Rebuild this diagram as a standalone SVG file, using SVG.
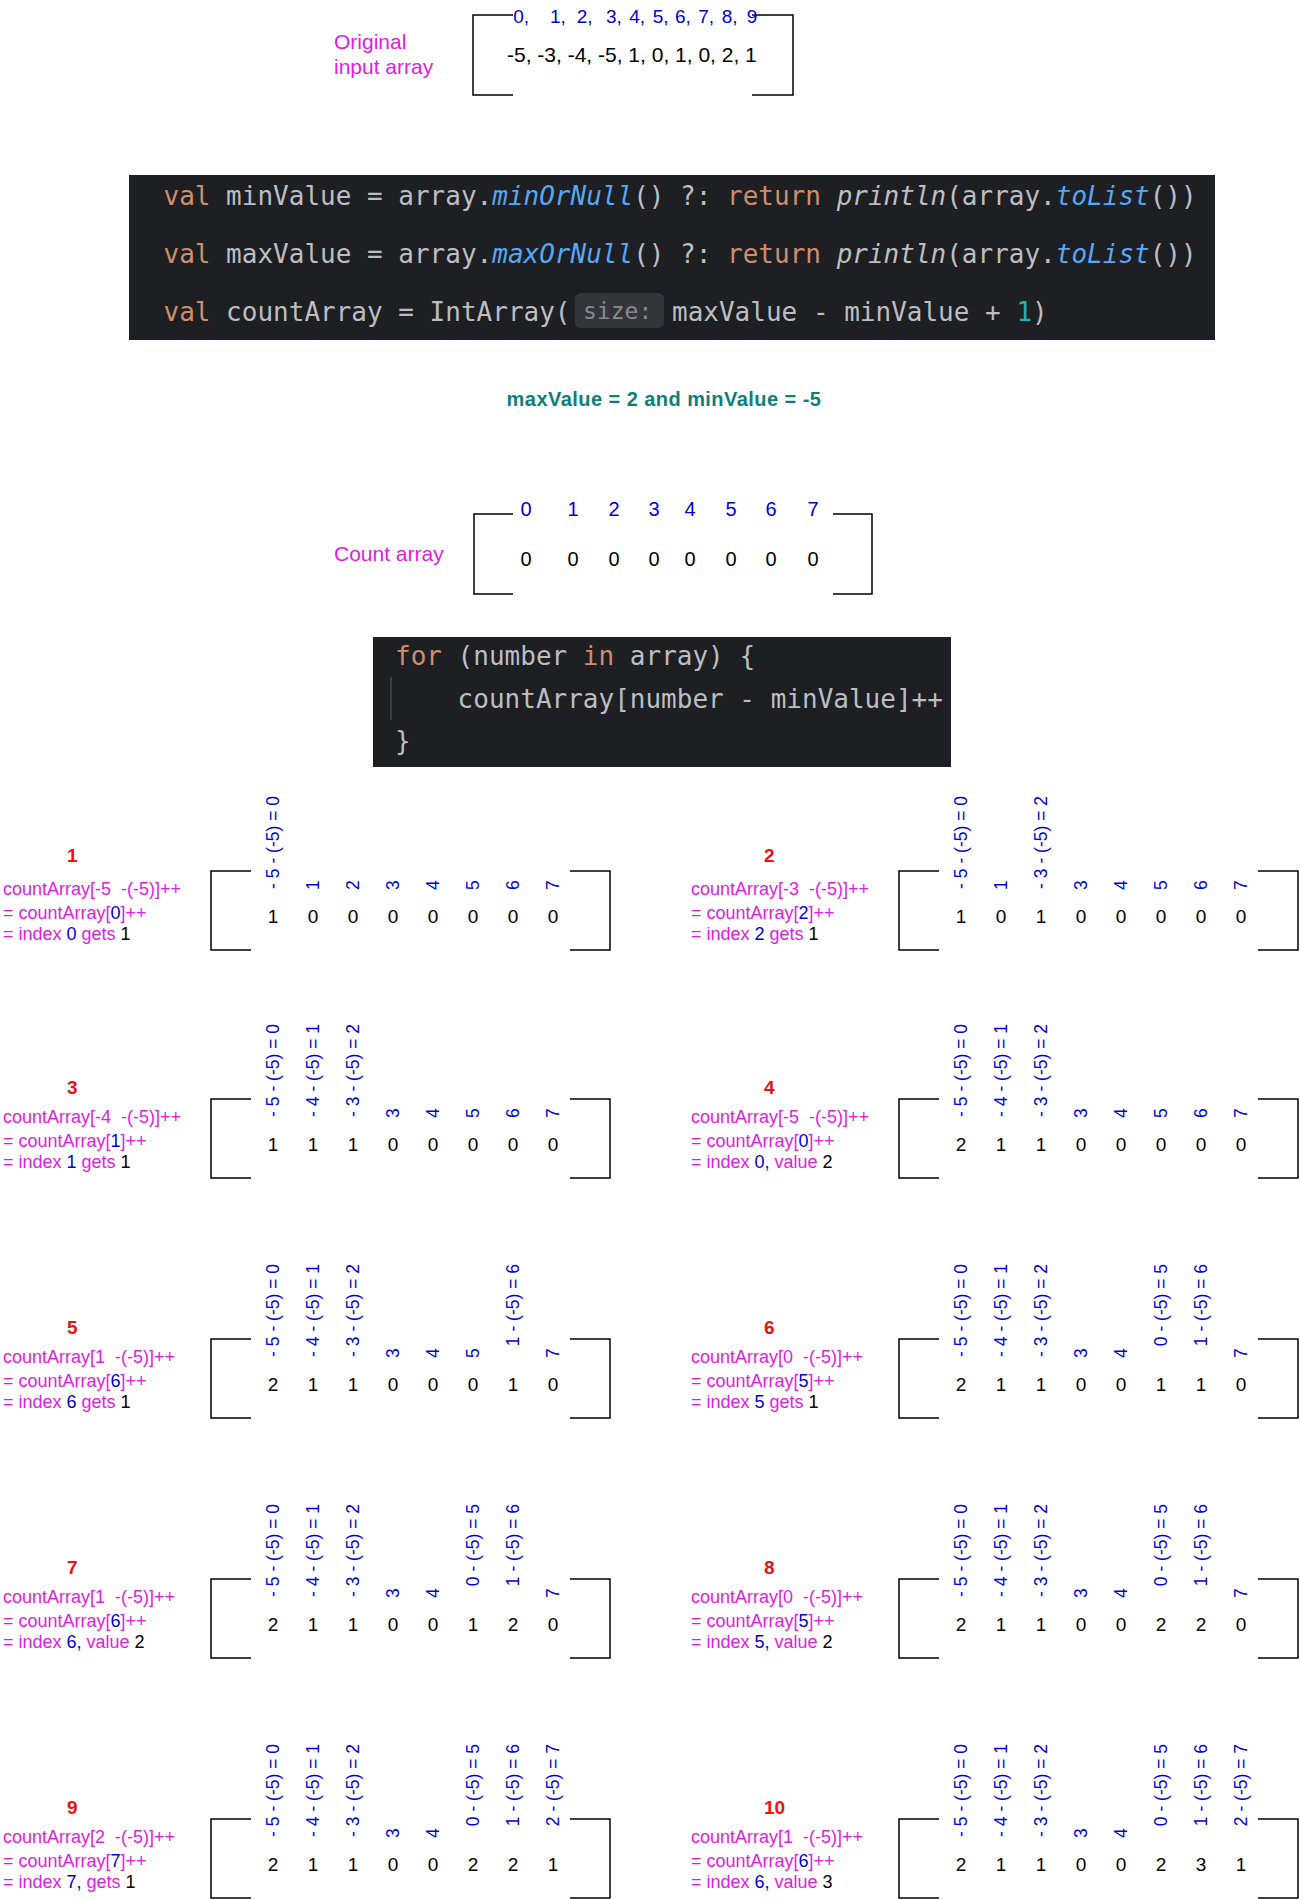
<svg xmlns="http://www.w3.org/2000/svg" width="1300" height="1899" viewBox="0 0 1300 1899">
<style>
.br{fill:none;stroke:#000;stroke-width:1.5}
.sans{font-family:"Liberation Sans",Arial,sans-serif}
.mg{font-family:"Liberation Sans",Arial,sans-serif;font-size:18px;fill:#e619e6;white-space:pre}
.lbl{font-family:"Liberation Sans",Arial,sans-serif;font-size:21px;fill:#e619e6}
.bl{fill:#0000dd}
.bk{fill:#000}
.num{font-family:"Liberation Sans",Arial,sans-serif;font-size:19px;font-weight:bold;fill:#ee1111}
.rl{font-family:"Liberation Sans",Arial,sans-serif;font-size:17.5px;fill:#0000dd}
.e{text-anchor:end}
.v{font-family:"Liberation Sans",Arial,sans-serif;font-size:19px;fill:#000;text-anchor:middle}
.code{font-family:"DejaVu Sans Mono","Liberation Mono",monospace;font-size:26px;fill:#bcbec4;white-space:pre}
.kw{fill:#cf8e6d}
.fn{fill:#56a8f5;font-style:italic}
.it{font-style:italic}
.nm{fill:#2aacb8}
</style>

<g id="input-array">
<text class="lbl" x="334" y="49">Original</text>
<text class="lbl" x="334" y="74">input array</text>
<path class="br" d="M513,15H473V95H513M752,15H793V95H752"/>
<text class="sans" font-size="19" fill="#0000dd"><tspan x="513.3" y="23">0,</tspan><tspan x="550" y="23">1,</tspan><tspan x="576.7" y="23">2,</tspan><tspan x="606" y="23">3,</tspan><tspan x="629.3" y="23">4,</tspan><tspan x="652.7" y="23">5,</tspan><tspan x="675" y="23">6,</tspan><tspan x="698.3" y="23">7,</tspan><tspan x="721.7" y="23">8,</tspan><tspan x="746.7" y="23">9</tspan></text>
<text class="sans" font-size="21" fill="#000" x="507" y="62">-5, -3, -4, -5, 1, 0, 1, 0, 2, 1</text>
</g>

<g id="code-init">
<rect x="129" y="175" width="1086" height="165" fill="#1e1f22"/>
<text class="code" x="163.5" y="205"><tspan class="kw">val</tspan> minValue = array.<tspan class="fn">minOrNull</tspan>() ?: <tspan class="kw">return</tspan> <tspan class="it">println</tspan>(array.<tspan class="fn">toList</tspan>())</text>
<text class="code" x="163.5" y="263"><tspan class="kw">val</tspan> maxValue = array.<tspan class="fn">maxOrNull</tspan>() ?: <tspan class="kw">return</tspan> <tspan class="it">println</tspan>(array.<tspan class="fn">toList</tspan>())</text>
<text class="code" x="163.5" y="321"><tspan class="kw">val</tspan> countArray = IntArray(</text>
<rect x="575" y="293" width="89" height="35" rx="6" fill="#33353a"/>
<text class="code" x="583" y="319" style="fill:#868a91;font-size:23px">size:</text>
<text class="code" x="672" y="321">maxValue - minValue + <tspan class="nm">1</tspan>)</text>
</g>

<g id="min-max">
<text class="sans" x="664" y="406" text-anchor="middle" font-size="20" font-weight="bold" letter-spacing="0.45" fill="#0d7f7b">maxValue = 2 and minValue = -5</text>
</g>

<g id="count-array">
<text class="lbl" x="334" y="561">Count array</text>
<path class="br" d="M513,514H474V594H513M833,514H872V594H833"/>
<g class="sans" font-size="20" fill="#0000dd" text-anchor="middle">
<text x="526" y="516">0</text><text x="573" y="516">1</text><text x="614" y="516">2</text><text x="654" y="516">3</text><text x="690" y="516">4</text><text x="731" y="516">5</text><text x="771" y="516">6</text><text x="813" y="516">7</text>
</g>
<g class="sans" font-size="20" fill="#000" text-anchor="middle">
<text x="526" y="566">0</text><text x="573" y="566">0</text><text x="614" y="566">0</text><text x="654" y="566">0</text><text x="690" y="566">0</text><text x="731" y="566">0</text><text x="771" y="566">0</text><text x="813" y="566">0</text>
</g>
</g>

<g id="code-loop">
<rect x="373" y="637" width="578" height="130" fill="#1e1f22"/>
<line x1="391" y1="677" x2="391" y2="720" stroke="#3c3e43" stroke-width="2"/>
<text class="code" x="395" y="665"><tspan class="kw">for</tspan> (number <tspan class="kw">in</tspan> array) {</text>
<text class="code" x="395" y="708">    countArray[number - minValue]++</text>
<text class="code" x="395" y="750">}</text>
</g>

<!-- Step 1 -->
<g id="step1" transform="translate(0,871)">
<path class="br" d="M251,0H211V79H251M570,0H610V79H570"/>
<text class="num" x="67" y="-9">1</text>
<text class="mg" x="3" y="24">countArray[-5  -(-5)]++</text>
<text class="mg" x="3" y="48">= countArray[<tspan class="bl">0</tspan>]++</text>
<text class="mg" x="3" y="69">= index <tspan class="bl">0</tspan> gets <tspan class="bk">1</tspan></text>
<g class="rl">
<text class="e" transform="translate(279,-75) rotate(-90)">- 5 - (-5) = 0</text>
<text transform="translate(319,19) rotate(-90)">1</text>
<text transform="translate(359,19) rotate(-90)">2</text>
<text transform="translate(399,19) rotate(-90)">3</text>
<text transform="translate(439,19) rotate(-90)">4</text>
<text transform="translate(479,19) rotate(-90)">5</text>
<text transform="translate(519,19) rotate(-90)">6</text>
<text transform="translate(559,19) rotate(-90)">7</text>
</g>
<g class="v"><text x="273" y="52">1</text><text x="313" y="52">0</text><text x="353" y="52">0</text><text x="393" y="52">0</text><text x="433" y="52">0</text><text x="473" y="52">0</text><text x="513" y="52">0</text><text x="553" y="52">0</text></g>
</g>

<!-- Step 2 -->
<g id="step2" transform="translate(688,871)">
<path class="br" d="M251,0H211V79H251M570,0H610V79H570"/>
<text class="num" x="76" y="-9">2</text>
<text class="mg" x="3" y="24">countArray[-3  -(-5)]++</text>
<text class="mg" x="3" y="48">= countArray[<tspan class="bl">2</tspan>]++</text>
<text class="mg" x="3" y="69">= index <tspan class="bl">2</tspan> gets <tspan class="bk">1</tspan></text>
<g class="rl">
<text class="e" transform="translate(279,-75) rotate(-90)">- 5 - (-5) = 0</text>
<text transform="translate(319,19) rotate(-90)">1</text>
<text class="e" transform="translate(359,-75) rotate(-90)">- 3 - (-5) = 2</text>
<text transform="translate(399,19) rotate(-90)">3</text>
<text transform="translate(439,19) rotate(-90)">4</text>
<text transform="translate(479,19) rotate(-90)">5</text>
<text transform="translate(519,19) rotate(-90)">6</text>
<text transform="translate(559,19) rotate(-90)">7</text>
</g>
<g class="v"><text x="273" y="52">1</text><text x="313" y="52">0</text><text x="353" y="52">1</text><text x="393" y="52">0</text><text x="433" y="52">0</text><text x="473" y="52">0</text><text x="513" y="52">0</text><text x="553" y="52">0</text></g>
</g>

<!-- Step 3 -->
<g id="step3" transform="translate(0,1099)">
<path class="br" d="M251,0H211V79H251M570,0H610V79H570"/>
<text class="num" x="67" y="-5">3</text>
<text class="mg" x="3" y="24">countArray[-4  -(-5)]++</text>
<text class="mg" x="3" y="48">= countArray[<tspan class="bl">1</tspan>]++</text>
<text class="mg" x="3" y="69">= index <tspan class="bl">1</tspan> gets <tspan class="bk">1</tspan></text>
<g class="rl">
<text class="e" transform="translate(279,-75) rotate(-90)">- 5 - (-5) = 0</text>
<text class="e" transform="translate(319,-75) rotate(-90)">- 4 - (-5) = 1</text>
<text class="e" transform="translate(359,-75) rotate(-90)">- 3 - (-5) = 2</text>
<text transform="translate(399,19) rotate(-90)">3</text>
<text transform="translate(439,19) rotate(-90)">4</text>
<text transform="translate(479,19) rotate(-90)">5</text>
<text transform="translate(519,19) rotate(-90)">6</text>
<text transform="translate(559,19) rotate(-90)">7</text>
</g>
<g class="v"><text x="273" y="52">1</text><text x="313" y="52">1</text><text x="353" y="52">1</text><text x="393" y="52">0</text><text x="433" y="52">0</text><text x="473" y="52">0</text><text x="513" y="52">0</text><text x="553" y="52">0</text></g>
</g>

<!-- Step 4 -->
<g id="step4" transform="translate(688,1099)">
<path class="br" d="M251,0H211V79H251M570,0H610V79H570"/>
<text class="num" x="76" y="-5">4</text>
<text class="mg" x="3" y="24">countArray[-5  -(-5)]++</text>
<text class="mg" x="3" y="48">= countArray[<tspan class="bl">0</tspan>]++</text>
<text class="mg" x="3" y="69">= index <tspan class="bl">0,</tspan> value <tspan class="bk">2</tspan></text>
<g class="rl">
<text class="e" transform="translate(279,-75) rotate(-90)">- 5 - (-5) = 0</text>
<text class="e" transform="translate(319,-75) rotate(-90)">- 4 - (-5) = 1</text>
<text class="e" transform="translate(359,-75) rotate(-90)">- 3 - (-5) = 2</text>
<text transform="translate(399,19) rotate(-90)">3</text>
<text transform="translate(439,19) rotate(-90)">4</text>
<text transform="translate(479,19) rotate(-90)">5</text>
<text transform="translate(519,19) rotate(-90)">6</text>
<text transform="translate(559,19) rotate(-90)">7</text>
</g>
<g class="v"><text x="273" y="52">2</text><text x="313" y="52">1</text><text x="353" y="52">1</text><text x="393" y="52">0</text><text x="433" y="52">0</text><text x="473" y="52">0</text><text x="513" y="52">0</text><text x="553" y="52">0</text></g>
</g>

<!-- Step 5 -->
<g id="step5" transform="translate(0,1339)">
<path class="br" d="M251,0H211V79H251M570,0H610V79H570"/>
<text class="num" x="67" y="-5">5</text>
<text class="mg" x="3" y="24">countArray[1  -(-5)]++</text>
<text class="mg" x="3" y="48">= countArray[<tspan class="bl">6</tspan>]++</text>
<text class="mg" x="3" y="69">= index <tspan class="bl">6</tspan> gets <tspan class="bk">1</tspan></text>
<g class="rl">
<text class="e" transform="translate(279,-75) rotate(-90)">- 5 - (-5) = 0</text>
<text class="e" transform="translate(319,-75) rotate(-90)">- 4 - (-5) = 1</text>
<text class="e" transform="translate(359,-75) rotate(-90)">- 3 - (-5) = 2</text>
<text transform="translate(399,19) rotate(-90)">3</text>
<text transform="translate(439,19) rotate(-90)">4</text>
<text transform="translate(479,19) rotate(-90)">5</text>
<text class="e" transform="translate(519,-75) rotate(-90)">1 - (-5) = 6</text>
<text transform="translate(559,19) rotate(-90)">7</text>
</g>
<g class="v"><text x="273" y="52">2</text><text x="313" y="52">1</text><text x="353" y="52">1</text><text x="393" y="52">0</text><text x="433" y="52">0</text><text x="473" y="52">0</text><text x="513" y="52">1</text><text x="553" y="52">0</text></g>
</g>

<!-- Step 6 -->
<g id="step6" transform="translate(688,1339)">
<path class="br" d="M251,0H211V79H251M570,0H610V79H570"/>
<text class="num" x="76" y="-5">6</text>
<text class="mg" x="3" y="24">countArray[0  -(-5)]++</text>
<text class="mg" x="3" y="48">= countArray[<tspan class="bl">5</tspan>]++</text>
<text class="mg" x="3" y="69">= index <tspan class="bl">5</tspan> gets <tspan class="bk">1</tspan></text>
<g class="rl">
<text class="e" transform="translate(279,-75) rotate(-90)">- 5 - (-5) = 0</text>
<text class="e" transform="translate(319,-75) rotate(-90)">- 4 - (-5) = 1</text>
<text class="e" transform="translate(359,-75) rotate(-90)">- 3 - (-5) = 2</text>
<text transform="translate(399,19) rotate(-90)">3</text>
<text transform="translate(439,19) rotate(-90)">4</text>
<text class="e" transform="translate(479,-75) rotate(-90)">0 - (-5) = 5</text>
<text class="e" transform="translate(519,-75) rotate(-90)">1 - (-5) = 6</text>
<text transform="translate(559,19) rotate(-90)">7</text>
</g>
<g class="v"><text x="273" y="52">2</text><text x="313" y="52">1</text><text x="353" y="52">1</text><text x="393" y="52">0</text><text x="433" y="52">0</text><text x="473" y="52">1</text><text x="513" y="52">1</text><text x="553" y="52">0</text></g>
</g>

<!-- Step 7 -->
<g id="step7" transform="translate(0,1579)">
<path class="br" d="M251,0H211V79H251M570,0H610V79H570"/>
<text class="num" x="67" y="-5">7</text>
<text class="mg" x="3" y="24">countArray[1  -(-5)]++</text>
<text class="mg" x="3" y="48">= countArray[<tspan class="bl">6</tspan>]++</text>
<text class="mg" x="3" y="69">= index <tspan class="bl">6,</tspan> value <tspan class="bk">2</tspan></text>
<g class="rl">
<text class="e" transform="translate(279,-75) rotate(-90)">- 5 - (-5) = 0</text>
<text class="e" transform="translate(319,-75) rotate(-90)">- 4 - (-5) = 1</text>
<text class="e" transform="translate(359,-75) rotate(-90)">- 3 - (-5) = 2</text>
<text transform="translate(399,19) rotate(-90)">3</text>
<text transform="translate(439,19) rotate(-90)">4</text>
<text class="e" transform="translate(479,-75) rotate(-90)">0 - (-5) = 5</text>
<text class="e" transform="translate(519,-75) rotate(-90)">1 - (-5) = 6</text>
<text transform="translate(559,19) rotate(-90)">7</text>
</g>
<g class="v"><text x="273" y="52">2</text><text x="313" y="52">1</text><text x="353" y="52">1</text><text x="393" y="52">0</text><text x="433" y="52">0</text><text x="473" y="52">1</text><text x="513" y="52">2</text><text x="553" y="52">0</text></g>
</g>

<!-- Step 8 -->
<g id="step8" transform="translate(688,1579)">
<path class="br" d="M251,0H211V79H251M570,0H610V79H570"/>
<text class="num" x="76" y="-5">8</text>
<text class="mg" x="3" y="24">countArray[0  -(-5)]++</text>
<text class="mg" x="3" y="48">= countArray[<tspan class="bl">5</tspan>]++</text>
<text class="mg" x="3" y="69">= index <tspan class="bl">5,</tspan> value <tspan class="bk">2</tspan></text>
<g class="rl">
<text class="e" transform="translate(279,-75) rotate(-90)">- 5 - (-5) = 0</text>
<text class="e" transform="translate(319,-75) rotate(-90)">- 4 - (-5) = 1</text>
<text class="e" transform="translate(359,-75) rotate(-90)">- 3 - (-5) = 2</text>
<text transform="translate(399,19) rotate(-90)">3</text>
<text transform="translate(439,19) rotate(-90)">4</text>
<text class="e" transform="translate(479,-75) rotate(-90)">0 - (-5) = 5</text>
<text class="e" transform="translate(519,-75) rotate(-90)">1 - (-5) = 6</text>
<text transform="translate(559,19) rotate(-90)">7</text>
</g>
<g class="v"><text x="273" y="52">2</text><text x="313" y="52">1</text><text x="353" y="52">1</text><text x="393" y="52">0</text><text x="433" y="52">0</text><text x="473" y="52">2</text><text x="513" y="52">2</text><text x="553" y="52">0</text></g>
</g>

<!-- Step 9 -->
<g id="step9" transform="translate(0,1819)">
<path class="br" d="M251,0H211V79H251M570,0H610V79H570"/>
<text class="num" x="67" y="-5">9</text>
<text class="mg" x="3" y="24">countArray[2  -(-5)]++</text>
<text class="mg" x="3" y="48">= countArray[<tspan class="bl">7</tspan>]++</text>
<text class="mg" x="3" y="69">= index <tspan class="bl">7,</tspan> gets <tspan class="bk">1</tspan></text>
<g class="rl">
<text class="e" transform="translate(279,-75) rotate(-90)">- 5 - (-5) = 0</text>
<text class="e" transform="translate(319,-75) rotate(-90)">- 4 - (-5) = 1</text>
<text class="e" transform="translate(359,-75) rotate(-90)">- 3 - (-5) = 2</text>
<text transform="translate(399,19) rotate(-90)">3</text>
<text transform="translate(439,19) rotate(-90)">4</text>
<text class="e" transform="translate(479,-75) rotate(-90)">0 - (-5) = 5</text>
<text class="e" transform="translate(519,-75) rotate(-90)">1 - (-5) = 6</text>
<text class="e" transform="translate(559,-75) rotate(-90)">2 - (-5) = 7</text>
</g>
<g class="v"><text x="273" y="52">2</text><text x="313" y="52">1</text><text x="353" y="52">1</text><text x="393" y="52">0</text><text x="433" y="52">0</text><text x="473" y="52">2</text><text x="513" y="52">2</text><text x="553" y="52">1</text></g>
</g>

<!-- Step 10 -->
<g id="step10" transform="translate(688,1819)">
<path class="br" d="M251,0H211V79H251M570,0H610V79H570"/>
<text class="num" x="76" y="-5">10</text>
<text class="mg" x="3" y="24">countArray[1  -(-5)]++</text>
<text class="mg" x="3" y="48">= countArray[<tspan class="bl">6</tspan>]++</text>
<text class="mg" x="3" y="69">= index <tspan class="bl">6,</tspan> value <tspan class="bk">3</tspan></text>
<g class="rl">
<text class="e" transform="translate(279,-75) rotate(-90)">- 5 - (-5) = 0</text>
<text class="e" transform="translate(319,-75) rotate(-90)">- 4 - (-5) = 1</text>
<text class="e" transform="translate(359,-75) rotate(-90)">- 3 - (-5) = 2</text>
<text transform="translate(399,19) rotate(-90)">3</text>
<text transform="translate(439,19) rotate(-90)">4</text>
<text class="e" transform="translate(479,-75) rotate(-90)">0 - (-5) = 5</text>
<text class="e" transform="translate(519,-75) rotate(-90)">1 - (-5) = 6</text>
<text class="e" transform="translate(559,-75) rotate(-90)">2 - (-5) = 7</text>
</g>
<g class="v"><text x="273" y="52">2</text><text x="313" y="52">1</text><text x="353" y="52">1</text><text x="393" y="52">0</text><text x="433" y="52">0</text><text x="473" y="52">2</text><text x="513" y="52">3</text><text x="553" y="52">1</text></g>
</g>
</svg>
